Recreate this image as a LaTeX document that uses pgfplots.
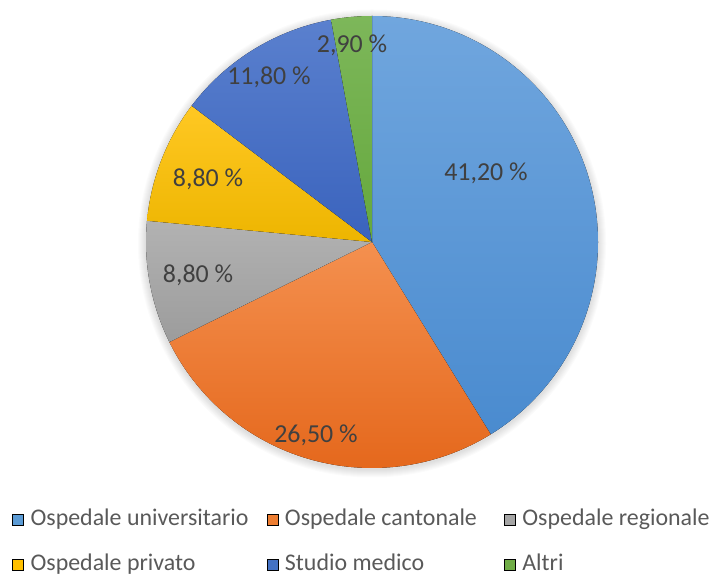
\documentclass[border=0pt]{standalone}
\usepackage{pgfplots}
\pgfplotsset{compat=1.18}
\usepackage{fontspec}
\setmainfont{Carlito}
\definecolor{labelgray}{HTML}{404040}
\definecolor{legendgray}{HTML}{595959}
\definecolor{cA}{HTML}{5B9BD5}\definecolor{cAt}{HTML}{70A6DE}\definecolor{cAb}{HTML}{4A8BCF}
\definecolor{cB}{HTML}{ED7D31}\definecolor{cBt}{HTML}{F4904F}\definecolor{cBb}{HTML}{E4661A}
\definecolor{cC}{HTML}{A5A5A5}\definecolor{cCt}{HTML}{B2B2B2}\definecolor{cCb}{HTML}{9C9C9C}
\definecolor{cD}{HTML}{FFC000}\definecolor{cDt}{HTML}{FFC823}\definecolor{cDb}{HTML}{EDB500}
\definecolor{cE}{HTML}{4472C4}\definecolor{cEt}{HTML}{5A80CE}\definecolor{cEb}{HTML}{3A63BD}
\definecolor{cF}{HTML}{70AD47}\definecolor{cFt}{HTML}{7DB75A}\definecolor{cFb}{HTML}{65A83D}
% shares (percent)
\def\vA{41.2}\def\vB{26.5}\def\vC{8.8}\def\vD{8.8}\def\vE{11.8}\def\vF{2.9}
\pgfmathsetmacro\aO{90}
\pgfmathsetmacro\aA{\aO-3.6*\vA}
\pgfmathsetmacro\aB{\aA-3.6*\vB}
\pgfmathsetmacro\aC{\aB-3.6*\vC}
\pgfmathsetmacro\aD{\aC-3.6*\vD}
\pgfmathsetmacro\aE{\aD-3.6*\vE}
\pgfmathsetmacro\aF{\aE-3.6*\vF}
\def\cx{372}\def\cy{332}\def\R{226}
\newcommand\slice[4]{%
  \fill[top color=#3, bottom color=#4] (axis cs:\cx,\cy) -- ++(#1:\R bp) arc[start angle=#1, end angle=#2, radius=\R bp] -- cycle;}
\begin{document}
\begin{tikzpicture}
\begin{axis}[
  scale only axis, width=713bp, height=574bp,
  xmin=0, xmax=713, ymin=0, ymax=574,
  hide axis, clip=false,
  legend columns=3,
  legend cell align=left,
  legend image code/.code={\fill[#1] (0bp,-5.5bp) rectangle (11bp,5.5bp);},
  legend style={draw=none, fill=none, inner sep=0pt, at={(axis cs:12,65)}, anchor=north west,
    font=\fontsize{24}{28}\selectfont, text=legendgray, row sep=24bp,
    /tikz/every odd column/.append style={column sep=7bp},
    nodes={inner sep=0pt, text height=16bp, text depth=5bp}},
]
\path (axis cs:0,0) rectangle (axis cs:713,574);
\pgfplotsinvokeforeach{1,2,3,4,5,6,7,8}{
  \fill[black, opacity=0.016] (axis cs:\cx,\cy-1.5) circle[radius=\R bp + #1 bp];
}
\slice{\aO}{\aA}{cAt}{cAb}
\slice{\aA}{\aB}{cBt}{cBb}
\slice{\aB}{\aC}{cCt}{cCb}
\slice{\aC}{\aD}{cDt}{cDb}
\slice{\aD}{\aE}{cEt}{cEb}
\slice{\aE}{\aF}{cFt}{cFb}
\begin{scope}[every node/.style={font=\fontsize{26}{30}\selectfont, text=labelgray}]
\node at (axis cs:486,401) {41,20 \%};
\node at (axis cs:316,139) {26,50 \%};
\node at (axis cs:198,299) {8,80 \%};
\node at (axis cs:208,395) {8,80 \%};
\node at (axis cs:269,497) {11,80 \%};
\node at (axis cs:352,529) {2,90 \%};
\end{scope}
\addlegendimage{fill=cA}\addlegendentry{\makebox[236bp][l]{Ospedale universitario}}
\addlegendimage{fill=cB}\addlegendentry{\makebox[219bp][l]{Ospedale cantonale}}
\addlegendimage{fill=cC}\addlegendentry{Ospedale regionale}
\addlegendimage{fill=cD}\addlegendentry{\makebox[236bp][l]{Ospedale privato}}
\addlegendimage{fill=cE}\addlegendentry{\makebox[219bp][l]{Studio medico}}
\addlegendimage{fill=cF}\addlegendentry{Altri}
\end{axis}
\end{tikzpicture}
\end{document}
